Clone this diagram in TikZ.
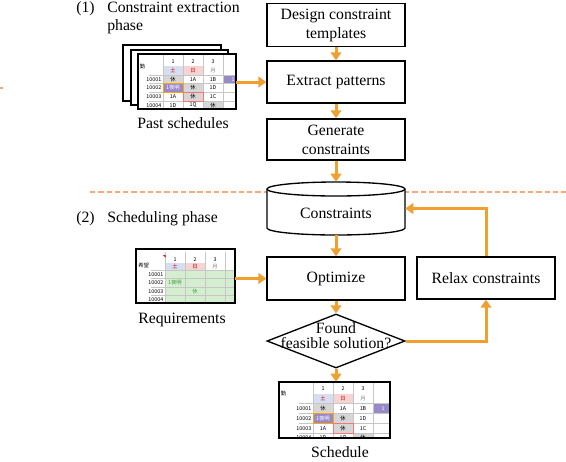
\documentclass[tikz,border=0pt]{standalone}
\usepackage{fontspec}
\setmainfont{Liberation Serif}
\newfontfamily\cjk{Noto Sans CJK JP}
\usetikzlibrary{arrows.meta,shapes.geometric}

\definecolor{arrowor}{RGB}{240,160,48}
\definecolor{dashor}{RGB}{248,168,120}
\definecolor{lavc}{RGB}{216,222,242}
\definecolor{pinkc}{RGB}{246,212,212}
\definecolor{grayc}{RGB}{214,214,214}
\definecolor{purpc}{RGB}{152,138,200}
\definecolor{greenc}{RGB}{214,238,208}
\definecolor{greent}{RGB}{60,160,60}

\tikzset{gridln/.style={gray!45, line width=0.3pt}}
\tikzset{sheetln/.style={draw=black, line width=1pt}}
\tikzset{celltxt/.style={font=\cjk\fontsize{4}{4.5}\selectfont, inner sep=0pt}}

% one sheet of the schedule table: left, top, width, height, label column, row height, first row, name
\newcommand{\schedsheet}[8]{%
  \begin{scope}[shift={(#1,#2)}]
    \fill[white] (0,0) rectangle (#3,#4);
    \begin{scope}
      \clip (0,0) rectangle (#3,#4);
      \foreach \cc/\rr/\fc in {1/1/lavc, 2/1/pinkc, 1/2/grayc, 4/2/purpc, 1/3/purpc, 2/3/grayc, 2/4/grayc, 3/5/grayc}
        \fill[\fc] (#5+20*\cc-20, #7+#6*\rr) rectangle ++(20,#6);
      \foreach \cc in {0,...,4}
        \draw[gridln] (#5+20*\cc, 0) -- (#5+20*\cc, #4);
      \foreach \rr in {2,...,5}
        \draw[gridln] (#5-14, #7+#6*\rr) -- (#3, #7+#6*\rr);
      \draw[orange!70!yellow, line width=0.5pt] (#5, #7+#6*3) rectangle ++(20,#6);
      \draw[red!55, line width=0.5pt] (#5+20, #7+#6*4) rectangle ++(20,#6);
      \foreach \cc/\rr/\tx/\tc [count=\k] in {1/0/1/black, 2/0/2/black, 3/0/3/black,
          1/1/土/red!75!black, 2/1/日/red!75!black, 3/1/月/gray,
          1/2/休/black, 2/2/1A/black, 3/2/1B/black, 4/2/1/white,
          1/3/1夜明/white, 2/3/休/black, 3/3/1D/black,
          1/4/1A/black, 2/4/休/black, 3/4/1C/black,
          1/5/1D/black, 2/5/1Q/black, 3/5/休/black}
        \node[celltxt, text=\tc] (#8\k) at (#5+20*\cc-10, #7+#6*\rr+#6/2) {\tx};
      \foreach \rr/\tx [count=\k] in {2/10001, 3/10002, 4/10003, 5/10004}
        \node[celltxt, anchor=east] (#8l\k) at (#5-1.5, #7+#6*\rr+#6/2) {\tx};
      \node[celltxt, anchor=west] (#8h) at (1.5, #7+#6) {勤};
    \end{scope}
    \draw[sheetln] (0,0) rectangle (#3,#4);
  \end{scope}}

\begin{document}
\begin{tikzpicture}[x=0.75pt, y=-0.75pt, font=\fontsize{11.8}{14.2}\selectfont]
  \tikzset{procbox/.style={draw, line width=1pt, fill=white, minimum width=103.5pt, align=center, inner sep=1pt}}
  \tikzset{myarrow/.style={draw=arrowor, line width=2.25pt, -{Triangle[width=8pt,length=6pt]}}}
  \useasboundingbox (0,0) rectangle (566,461);

  % phase titles and the border between them
  \node[anchor=base west, inner sep=0] (ph1) at (76,12.7) {(1)};
  \node[anchor=base west, inner sep=0] (ph1a) at (107,12.7) {Constraint extraction};
  \node[anchor=base west, inner sep=0] (ph1b) at (107,30.7) {phase};
  \node[anchor=base west, inner sep=0] (ph2) at (76,222.5) {(2)};
  \node[anchor=base west, inner sep=0] (ph2a) at (107,222.5) {Scheduling phase};
  \draw[dashor, line width=1.1pt, dash pattern=on 4pt off 2.2pt] (90,192) -- (566,192);
  \draw[dashor, line width=1.2pt] (0,88) -- (3,88);

  % flow boxes
  \node[procbox, minimum height=32.25pt] (d) at (336,25) {Design constraint\\templates};
  \node[procbox, minimum height=31.5pt] (e) at (336,82) {Extract patterns};
  \node[procbox, minimum height=30.75pt] (g) at (336,139.5) {Generate\\constraints};
  % the store of constraints
  \draw[line width=1pt, fill=white] (267,189) -- (267,228)
    arc[start angle=180, end angle=0, x radius=69, y radius=7] -- (405,189);
  \draw[line width=1pt, fill=white] (336,189) ellipse [x radius=69, y radius=7];
  \node[inner sep=0, minimum width=103.5pt, minimum height=39.75pt] (c) at (336,208.5) {};
  \node (ct) at (336,213) {Constraints};
  \node[procbox, minimum height=32.25pt] (o) at (336,278.5) {Optimize};
  \node[procbox, minimum height=31.5pt] (r) at (486,278) {Relax constraints};
  \node[diamond, draw, line width=1pt, fill=white, minimum width=103.5pt,
        minimum height=40.5pt, inner sep=0pt] (f) at (336,341) {};
  \node[align=center, inner sep=0, font=\fontsize{11.8}{11.2}\selectfont] (ft) at (336,336) {Found\\feasible solution?};

  % past schedules
  \draw[sheetln, fill=white] (123,45) rectangle (221,101);
  \draw[sheetln, fill=white] (131,50) rectangle (228,105);
  \schedsheet{138}{54}{98}{55}{25}{8.7}{3.5}{ps}
  \node[inner sep=0, minimum width=73.5pt, minimum height=41.25pt] (past) at (187,81.5) {};
  \node (pastl) at (183,123) {Past schedules};

  % requirements
  \begin{scope}[shift={(136,249)}]
    \fill[white] (0,0) rectangle (99,54);
    \fill[lavc] (29,14) rectangle (49,21);
    \fill[pinkc] (49,14) rectangle (69,21);
    \fill[greenc] (29,21) rectangle (99,54);
    \foreach \cc in {0,...,3}
      \draw[gridln] (29+20*\cc, 3) -- (29+20*\cc, 54);
    \foreach \yy in {21,29.5,38,46.5}
      \draw[gridln] (15, \yy) -- (99, \yy);
    \fill[red] (27,6) -- (29.5,6) -- (29.5,8.5) -- cycle;
    \foreach \cc/\yy/\tx/\tc [count=\k] in {1/11/1/black, 2/11/2/black, 3/11/3/black,
        1/17.5/土/red!75!black, 2/17.5/日/red!75!black, 3/17.5/月/gray,
        1/33.75/1夜明/greent, 2/42.25/休/greent}
      \node[celltxt, text=\tc] (rq\k) at (29+20*\cc-10, \yy) {\tx};
    \foreach \yy/\tx [count=\k] in {25.25/10001, 33.75/10002, 42.25/10003, 50.75/10004}
      \node[celltxt, anchor=east] (rql\k) at (27.5, \yy) {\tx};
    \node[celltxt, anchor=west] (rqh) at (2, 16) {希望};
    \draw[sheetln] (0,0) rectangle (99,54);
  \end{scope}
  \node[inner sep=0, minimum width=74.25pt, minimum height=40.5pt] (req) at (185.5,276) {};
  \node (reql) at (182,320) {Requirements};

  % schedule
  \schedsheet{279}{382}{111}{56}{34}{9.8}{2}{sc}
  \node[inner sep=0, minimum width=83.25pt, minimum height=42pt] (sch) at (334.5,410) {};
  \node (schl) at (340,452.5) {Schedule};

  % arrows
  \draw[myarrow] (d) -- (e);
  \draw[myarrow] (e) -- (g);
  \draw[myarrow] (g) -- (c);
  \draw[myarrow] (c) -- (o);
  \draw[myarrow] (o) -- (f);
  \draw[myarrow] (f.south) -- (f.south |- sch.north);
  \draw[myarrow] (past.east |- e.west) -- (e.west);
  \draw[myarrow] (req.east |- o.west) -- (o.west);
  \draw[myarrow] (f.east) -| (r.south);
  \draw[myarrow] (r.north) |- (c.east);
\end{tikzpicture}
\end{document}
